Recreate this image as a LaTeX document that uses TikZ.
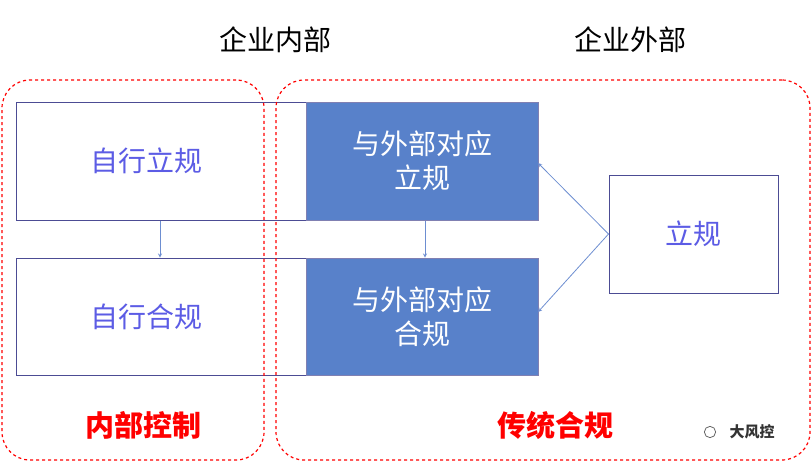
\documentclass[tikz,border=0pt]{standalone}
\usepackage{fontspec}
\setmainfont{Noto Sans CJK SC}
\begin{document}
\begin{tikzpicture}[x=1pt,y=-1pt,
  box/.style={draw=black!70!blue!60,line width=1.2pt,minimum width=#1,inner sep=0pt},
  wbox/.style={draw=black!60!blue!70,line width=1pt,fill=white,text=blue!50!black!40!cyan!60!blue,font=\fontsize{28}{34}\selectfont},
  fbox/.style={draw=blue!40!black!50,line width=1pt,fill=cyan!40!blue!70!white,text=white,font=\fontsize{28}{34}\selectfont,align=center},
  arr/.style={-stealth,draw=cyan!40!blue!60,line width=0.8pt},
  grp/.style={draw=red,dashed,line width=1.2pt,rounded corners=28pt},
  ttl/.style={font=\fontsize{28}{34}\selectfont},
  red/.style={text=red,font=\bfseries\fontsize{29}{34}\selectfont}]
\useasboundingbox (0,0) rectangle (812,467);
\node[wbox,minimum width=290pt,minimum height=118pt,text=blue!60!white!90!black] (a) at (161,161) {\hspace*{-30pt}自行立规};
\node[fbox,minimum width=232pt,minimum height=118pt] (b) at (422,161) {与外部对应\\立规};
\node[wbox,minimum width=290pt,minimum height=117pt,text=blue!60!white!90!black] (c) at (161,316.5) {\hspace*{-30pt}自行合规};
\node[fbox,minimum width=232pt,minimum height=117pt] (d) at (422,316.5) {与外部对应\\合规};
\node[wbox,minimum width=169pt,minimum height=118pt,text=blue!60!white!90!black] (e) at (693.5,234) {立规};
\draw[arr] (a.south -| 160,0) -- (c.north -| 160,0);
\draw[arr] (b.south -| 425,0) -- (d.north -| 425,0);
\coordinate (s) at (609,234);
\draw[arr] (e.west) -- (538,163);
\draw[arr] (e.west) -- (538,312);
\node[grp,minimum width=262pt,minimum height=380pt] (g1) at (133,270) {};
\node[grp,minimum width=534pt,minimum height=380pt] (g2) at (543,270) {};
\node[ttl] (t1) at (275,40) {企业内部};
\node[ttl] (t2) at (630,40) {企业外部};
\node[red] (r1) at (143,425) {内部控制};
\node[red] (r2) at (555,425) {传统合规};
\node[font=\bfseries\fontsize{15}{18}\selectfont,text=black!80] (w) at (752,432) {大风控};
\node[draw=black!60,circle,inner sep=4pt,line width=0.8pt] (wi) at (710,432) {};
\end{tikzpicture}
\end{document}
